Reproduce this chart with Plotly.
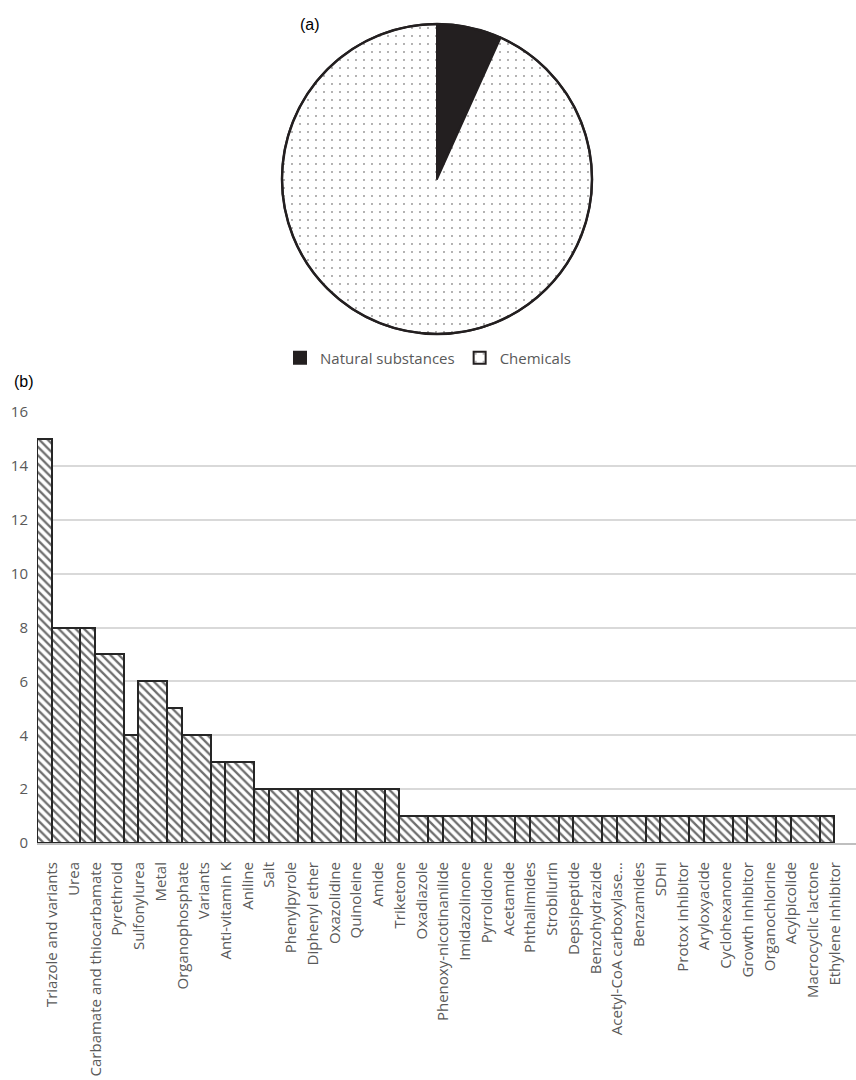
import plotly.graph_objects as go

# ---- data -------------------------------------------------------------
pie_labels = ["Natural substances", "Chemicals"]
pie_values = [7, 97]

categories = [
    "Triazole and variants", "Urea", "Carbamate and thiocarbamate", "Pyrethroid",
    "Sulfonylurea", "Metal", "Organophosphate", "Variants", "Anti-vitamin K",
    "Aniline", "Salt", "Phenylpyrole", "Diphenyl ether", "Oxazolidine",
    "Quinoleine", "Amide", "Triketone", "Oxadiazole", "Phenoxy-nicotinanilide",
    "Imidazolinone", "Pyrrolidone", "Acetamide", "Phthalimides", "Strobilurin",
    "Depsipeptide", "Benzohydrazide", "Acetyl-CoA carboxylase...", "Benzamides",
    "SDHI", "Protox inhibitor", "Aryloxyacide", "Cyclohexanone",
    "Growth inhibitor", "Organochlorine", "Acylpicolide", "Macrocyclic lactone",
    "Ethylene inhibitor",
]
counts = [15, 8, 8, 7, 4, 6, 5, 4, 3, 3, 2, 2, 2, 2, 2, 2, 2,
          1, 1, 1, 1, 1, 1, 1, 1, 1, 1, 1, 1, 1, 1, 1, 1, 1, 1, 1, 1]
y_ticks = list(range(0, 17, 2))

# ---- geometry ---------------------------------------------------------
W, H = 856, 1080
TEXT = "#595959"
FONT = "Open Sans"

# columns come in narrow/wide pairs that share two category slots
NARROW = 0.667
lefts, widths = [], []
for i in range(len(categories)):
    if i % 2 == 0:
        lefts.append(i)
        widths.append(NARROW)
    else:
        lefts.append(i - 1 + NARROW)
        widths.append(2 - NARROW)
centers = [l + w / 2 for l, w in zip(lefts, widths)]
label_pos = [i + 0.7 for i in range(len(categories))]

plot_left_px, slot_px = 37, 21.74
x_max = (W - plot_left_px) / slot_px

# pie box (pixels) -> paper fractions
pie_x0, pie_x1 = 282 / W, 592 / W
pie_y0, pie_y1 = 1 - 334 / H, 1 - 24 / H

fig = go.Figure()

fig.add_trace(go.Pie(
    labels=pie_labels,
    values=pie_values,
    sort=False,
    direction="clockwise",
    rotation=0,
    textinfo="none",
    hoverinfo="label+value",
    domain=dict(x=[pie_x0, pie_x1], y=[pie_y0, pie_y1]),
    marker=dict(
        colors=["#231f20", "white"],
        line=dict(color="#231f20", width=2),
        pattern=dict(shape=["", "."], fgcolor="#231f20", bgcolor="white",
                     size=8, solidity=0.02),
    ),
))

fig.add_trace(go.Bar(
    x=centers,
    y=counts,
    width=widths,
    showlegend=False,
    hovertext=categories,
    marker=dict(
        color="white",
        line=dict(color="#262626", width=2),
        pattern=dict(shape="\\", fgcolor="#6e6e6e", bgcolor="white",
                     size=6, solidity=0.38),
    ),
))

fig.add_shape(type="circle", xref="paper", yref="paper",
              x0=pie_x0, x1=pie_x1, y0=pie_y0, y1=pie_y1,
              line=dict(color="#231f20", width=2.5))

fig.add_annotation(text="(a)", xref="paper", yref="paper",
                   x=310 / W, y=1 - 14 / H, showarrow=False,
                   font=dict(family="Liberation Sans", size=16, color="black"))
fig.add_annotation(text="(b)", xref="paper", yref="paper",
                   x=12 / W, y=1 - 381 / H, showarrow=False,
                   font=dict(family="Liberation Sans", size=16, color="black"))

fig.update_layout(
    template="none",
    width=W, height=H,
    margin=dict(l=0, r=0, t=0, b=0),
    paper_bgcolor="white",
    plot_bgcolor="white",
    font=dict(family=FONT, color=TEXT),
    showlegend=True,
    legend=dict(orientation="h", x=0.5, xanchor="center",
                y=1 - 358 / H, yanchor="middle",
                font=dict(family=FONT, size=15, color=TEXT),
                itemwidth=30, bgcolor="rgba(0,0,0,0)"),
    xaxis=dict(
        domain=[plot_left_px / W, 1],
        range=[0, x_max],
        tickmode="array",
        tickvals=label_pos,
        ticktext=categories,
        tickangle=-90,
        tickfont=dict(family=FONT, size=15, color=TEXT),
        ticks="outside", ticklen=11, tickcolor="rgba(0,0,0,0)",
        showgrid=False, zeroline=False,
        showline=True, linecolor="#bfbfbf", linewidth=2,
        automargin=False, fixedrange=True,
    ),
    yaxis=dict(
        domain=[1 - 843 / H, 1 - 412 / H],
        range=[0, 16],
        tickmode="array",
        tickvals=y_ticks,
        tickfont=dict(family=FONT, size=15, color=TEXT),
        ticks="outside", ticklen=5, tickcolor="rgba(0,0,0,0)",
        showgrid=True, gridcolor="#d9d9d9", gridwidth=1.5,
        zeroline=False, showline=False,
        automargin=False, fixedrange=True,
    ),
    bargap=0,
)

fig.write_html("out.html")
